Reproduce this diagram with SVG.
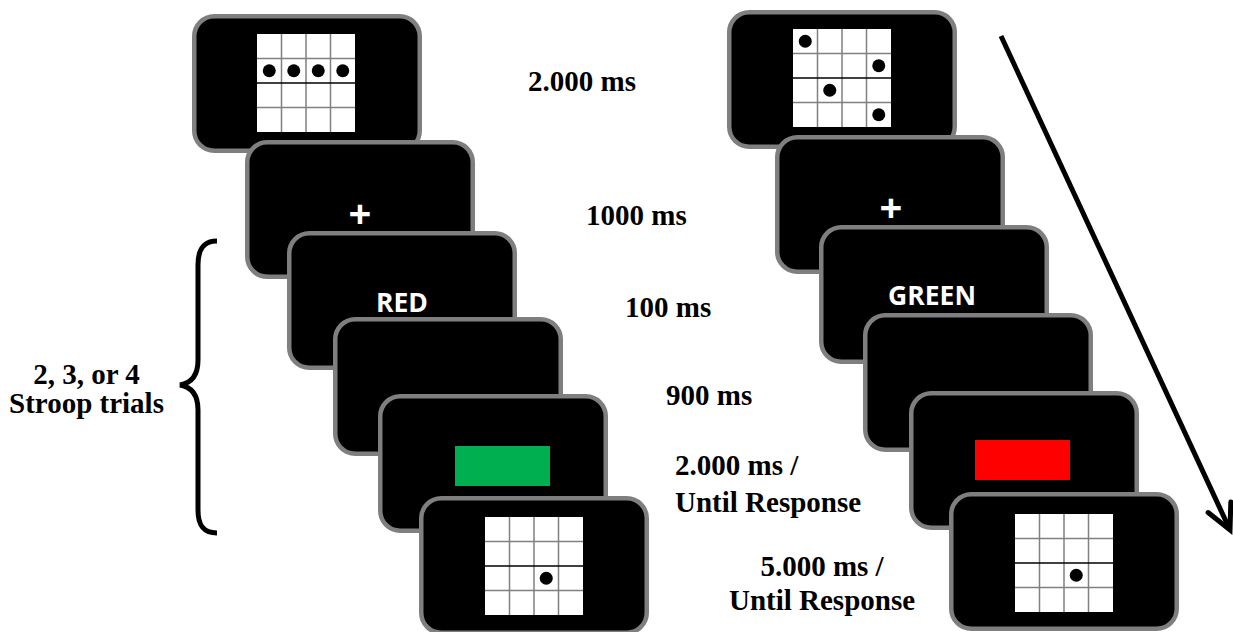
<svg xmlns="http://www.w3.org/2000/svg" width="1233" height="632" viewBox="0 0 1233 632">
<style>
.scr{fill:#000;stroke:#7f7f7f;stroke-width:4.5}
.gbg{fill:#fff}
.gl{stroke:#808080;stroke-width:1.5;fill:none}
.gm{stroke:#000;stroke-width:1.5;fill:none}
.dot{fill:#000}
.wt{font-family:"Open Sans","DejaVu Sans",sans-serif;font-weight:bold;fill:#fff;text-anchor:middle}
.lb{font-family:"Liberation Serif","Times New Roman",serif;font-weight:bold;font-size:29px;fill:#000}
.con{stroke:#000;stroke-width:5;fill:none}
</style>
<defs>
<marker id="ah" markerUnits="userSpaceOnUse" markerWidth="60" markerHeight="60" viewBox="-40 -30 60 60" refX="0" refY="0" orient="auto" overflow="visible">
<path d="M-25,-12.5 L0,0 L-25,12.5" fill="none" stroke="#000" stroke-width="5" stroke-linecap="round" stroke-linejoin="miter"/>
</marker>
</defs>
<rect width="1233" height="632" fill="#fff"/>

<g id="left-s1">
<rect class="scr" x="194.25" y="16.25" width="225.5" height="134.5" rx="20"/>
<rect class="gbg" x="257" y="34" width="98" height="98"/>
<path class="gl" d="M281.5,34V132M306,34V132M330.5,34V132M257,58.5H355M257,107.5H355"/>
<path class="gm" d="M257,83H355"/>
<circle class="dot" cx="269.25" cy="70.75" r="6.5"/>
<circle class="dot" cx="293.75" cy="70.75" r="6.5"/>
<circle class="dot" cx="318.25" cy="70.75" r="6.5"/>
<circle class="dot" cx="342.75" cy="70.75" r="6.5"/>
</g>
<g id="left-s2">
<rect class="scr" x="247.25" y="142.25" width="225.5" height="134.5" rx="20"/>
<text class="wt" x="360" y="228" font-size="40">+</text>
</g>
<g id="left-s3">
<rect class="scr" x="289.25" y="233.25" width="225.5" height="134.5" rx="20"/>
<text class="wt" x="402" y="312" font-size="26.5">RED</text>
</g>
<g id="left-s4">
<rect class="scr" x="335.25" y="319.25" width="225.5" height="134.5" rx="20"/>
</g>
<g id="left-s5">
<rect class="scr" x="380.25" y="396.25" width="225.5" height="134.5" rx="20"/>
<rect x="455" y="446" width="95" height="40" fill="#00b050"/>
</g>
<g id="left-s6">
<rect class="scr" x="421.25" y="498.25" width="225.5" height="134.5" rx="20"/>
<rect class="gbg" x="485" y="517" width="98" height="98"/>
<path class="gl" d="M509.5,517V615M534,517V615M558.5,517V615M485,541.5H583M485,590.5H583"/>
<path class="gm" d="M485,566H583"/>
<circle class="dot" cx="546.25" cy="578.25" r="6.5"/>
</g>

<g id="right-s1">
<rect class="scr" x="729.25" y="12.25" width="225.5" height="134.5" rx="20"/>
<rect class="gbg" x="793" y="29" width="98" height="98"/>
<path class="gl" d="M817.5,29V127M842,29V127M866.5,29V127M793,53.5H891M793,102.5H891"/>
<path class="gm" d="M793,78H891"/>
<circle class="dot" cx="805.25" cy="41.25" r="6.5"/>
<circle class="dot" cx="878.75" cy="65.75" r="6.5"/>
<circle class="dot" cx="829.75" cy="90.25" r="6.5"/>
<circle class="dot" cx="878.75" cy="114.75" r="6.5"/>
</g>
<g id="right-s2">
<rect class="scr" x="777.25" y="137.25" width="225.5" height="134.5" rx="20"/>
<text class="wt" x="891" y="222" font-size="40">+</text>
</g>
<g id="right-s3">
<rect class="scr" x="821.25" y="227.25" width="225.5" height="134.5" rx="20"/>
<text class="wt" x="932" y="305" font-size="26.5">GREEN</text>
</g>
<g id="right-s4">
<rect class="scr" x="865.25" y="315.25" width="225.5" height="134.5" rx="20"/>
</g>
<g id="right-s5">
<rect class="scr" x="911.25" y="393.25" width="225.5" height="134.5" rx="20"/>
<rect x="975" y="440" width="95" height="40" fill="#ff0000"/>
</g>
<g id="right-s6">
<rect class="scr" x="951.25" y="494.25" width="225.5" height="134.5" rx="20"/>
<rect class="gbg" x="1015" y="514" width="98" height="98"/>
<path class="gl" d="M1039.5,514V612M1064,514V612M1088.5,514V612M1015,538.5H1113M1015,587.5H1113"/>
<path class="gm" d="M1015,563H1113"/>
<circle class="dot" cx="1076.25" cy="575.25" r="6.5"/>
</g>

<g id="labels">
<text class="lb" x="528" y="91">2.000 ms</text>
<text class="lb" x="586" y="225">1000 ms</text>
<text class="lb" x="625" y="317">100 ms</text>
<text class="lb" x="666" y="405">900 ms</text>
<text class="lb" x="675" y="475">2.000 ms /</text>
<text class="lb" x="675" y="512">Until Response</text>
<text class="lb" x="822" y="576" text-anchor="middle">5.000 ms /</text>
<text class="lb" x="822" y="610" text-anchor="middle">Until Response</text>
<text class="lb" x="86.5" y="384" text-anchor="middle">2, 3, or 4</text>
<text class="lb" x="86.5" y="413" text-anchor="middle">Stroop trials</text>
</g>

<g id="connectors">
<path class="con" stroke-width="4.5" d="M217,241 C203,241 198,250 198,265 L198,360 C198,375 192,383 180,385 C192,387 198,395 198,410 L198,510 C198,525 203,533 217,533"/>
<line class="con" x1="1001" y1="36" x2="1230" y2="530" marker-end="url(#ah)"/>
</g>
</svg>
